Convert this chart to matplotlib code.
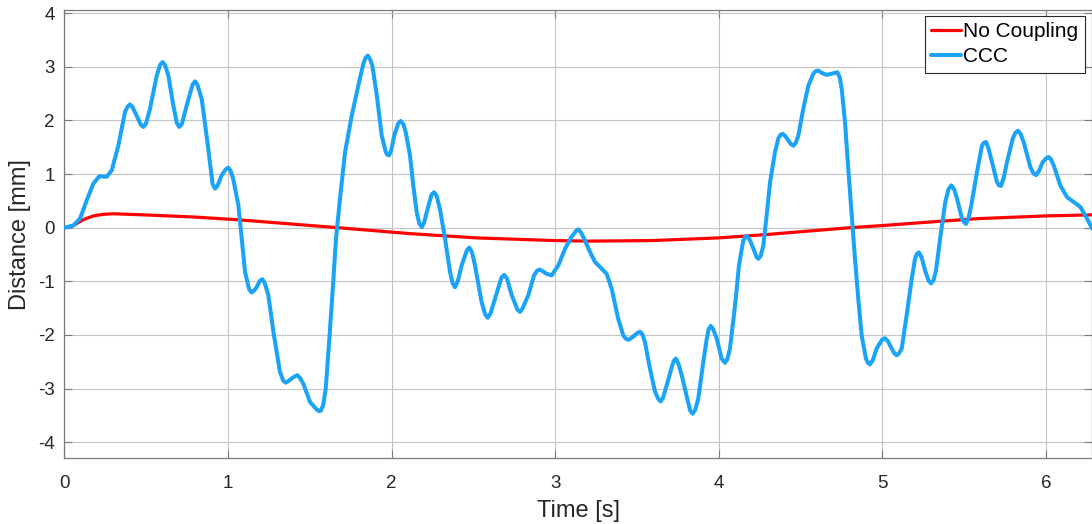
import matplotlib
matplotlib.use("Agg")
import matplotlib.pyplot as plt

# ---- data: (time [s], distance [mm]) ----
ccc_points = [
    (0.000, 0.00), (0.055, 0.04), (0.096, 0.17), (0.137, 0.51), (0.177, 0.82),
    (0.214, 0.96), (0.259, 0.95), (0.290, 1.07), (0.330, 1.53), (0.371, 2.16),
    (0.387, 2.26), (0.402, 2.30), (0.417, 2.25), (0.442, 2.09), (0.468, 1.92),
    (0.483, 1.88), (0.498, 1.93), (0.524, 2.22), (0.565, 2.84), (0.586, 3.04),
    (0.601, 3.09), (0.616, 3.03), (0.636, 2.84), (0.666, 2.28), (0.688, 1.95),
    (0.703, 1.88), (0.718, 1.93), (0.748, 2.28), (0.784, 2.67), (0.799, 2.73),
    (0.814, 2.66), (0.840, 2.40), (0.880, 1.47), (0.906, 0.82), (0.921, 0.73),
    (0.936, 0.78), (0.962, 0.98), (0.987, 1.09), (1.002, 1.12), (1.017, 1.06),
    (1.033, 0.90), (1.064, 0.42), (1.084, -0.20), (1.105, -0.83), (1.130, -1.15),
    (1.145, -1.21), (1.160, -1.17), (1.176, -1.11), (1.195, -0.99), (1.210, -0.96),
    (1.225, -1.03), (1.247, -1.26), (1.278, -1.94), (1.318, -2.69), (1.338, -2.85),
    (1.353, -2.89), (1.370, -2.86), (1.390, -2.81), (1.410, -2.77), (1.424, -2.75),
    (1.440, -2.80), (1.461, -2.91), (1.502, -3.25), (1.543, -3.39), (1.557, -3.42),
    (1.569, -3.41), (1.583, -3.30), (1.598, -3.00), (1.620, -2.07), (1.641, -1.14),
    (1.661, -0.20), (1.685, 0.54), (1.716, 1.41), (1.757, 2.09), (1.797, 2.65),
    (1.828, 3.06), (1.842, 3.17), (1.855, 3.21), (1.868, 3.15), (1.883, 3.02),
    (1.910, 2.47), (1.940, 1.72), (1.965, 1.41), (1.975, 1.36), (1.985, 1.35),
    (1.998, 1.44), (2.017, 1.72), (2.040, 1.94), (2.056, 1.99), (2.072, 1.93),
    (2.087, 1.78), (2.113, 1.35), (2.133, 0.79), (2.154, 0.29), (2.170, 0.08),
    (2.185, 0.01), (2.200, 0.10), (2.215, 0.29), (2.245, 0.62), (2.260, 0.66),
    (2.275, 0.60), (2.296, 0.35), (2.327, -0.20), (2.358, -0.83), (2.373, -1.03),
    (2.388, -1.11), (2.405, -1.00), (2.429, -0.70), (2.461, -0.42), (2.476, -0.37),
    (2.492, -0.46), (2.510, -0.70), (2.551, -1.39), (2.573, -1.62), (2.588, -1.68),
    (2.605, -1.60), (2.633, -1.32), (2.672, -0.93), (2.689, -0.88), (2.706, -0.95),
    (2.735, -1.26), (2.770, -1.53), (2.785, -1.57), (2.800, -1.51), (2.836, -1.26),
    (2.871, -0.89), (2.890, -0.80), (2.908, -0.78), (2.949, -0.86), (2.979, -0.89),
    (3.020, -0.70), (3.061, -0.39), (3.101, -0.17), (3.128, -0.06), (3.142, -0.03),
    (3.156, -0.08), (3.172, -0.17), (3.213, -0.45), (3.244, -0.64), (3.274, -0.73),
    (3.315, -0.86), (3.346, -1.14), (3.386, -1.70), (3.417, -2.01), (3.432, -2.07),
    (3.447, -2.09), (3.464, -2.06), (3.484, -2.01), (3.505, -1.96), (3.519, -1.94),
    (3.534, -1.99), (3.549, -2.13), (3.580, -2.63), (3.611, -3.06), (3.630, -3.19),
    (3.645, -3.24), (3.660, -3.17), (3.682, -2.94), (3.716, -2.57), (3.726, -2.48),
    (3.739, -2.44), (3.755, -2.55), (3.774, -2.75), (3.808, -3.19), (3.826, -3.41),
    (3.841, -3.47), (3.856, -3.40), (3.875, -3.19), (3.906, -2.50), (3.927, -2.07),
    (3.938, -1.90), (3.951, -1.83), (3.966, -1.89), (3.988, -2.07), (4.018, -2.44),
    (4.038, -2.52), (4.052, -2.46), (4.069, -2.25), (4.100, -1.45), (4.124, -0.70),
    (4.150, -0.24), (4.162, -0.17), (4.175, -0.16), (4.192, -0.24), (4.212, -0.39),
    (4.230, -0.54), (4.242, -0.58), (4.256, -0.53), (4.273, -0.33), (4.293, 0.23),
    (4.314, 0.85), (4.344, 1.41), (4.364, 1.66), (4.377, 1.73), (4.391, 1.75),
    (4.407, 1.71), (4.425, 1.63), (4.441, 1.56), (4.456, 1.53), (4.471, 1.58),
    (4.487, 1.72), (4.517, 2.22), (4.548, 2.65), (4.578, 2.87), (4.593, 2.92),
    (4.609, 2.93), (4.635, 2.88), (4.660, 2.85), (4.701, 2.88), (4.725, 2.90),
    (4.740, 2.80), (4.752, 2.59), (4.772, 1.97), (4.792, 1.10), (4.813, 0.23),
    (4.833, -0.58), (4.853, -1.32), (4.874, -2.01), (4.900, -2.44), (4.912, -2.52),
    (4.925, -2.55), (4.942, -2.47), (4.966, -2.25), (4.998, -2.09), (5.017, -2.06),
    (5.035, -2.12), (5.057, -2.25), (5.073, -2.34), (5.088, -2.38), (5.103, -2.34),
    (5.119, -2.25), (5.149, -1.63), (5.180, -0.95), (5.200, -0.58), (5.211, -0.49),
    (5.224, -0.46), (5.240, -0.55), (5.262, -0.80), (5.283, -0.99), (5.298, -1.04),
    (5.313, -0.98), (5.328, -0.80), (5.355, -0.17), (5.385, 0.48), (5.405, 0.72),
    (5.422, 0.79), (5.440, 0.71), (5.457, 0.54), (5.487, 0.17), (5.500, 0.10),
    (5.512, 0.07), (5.527, 0.18), (5.544, 0.42), (5.579, 1.04), (5.609, 1.53),
    (5.620, 1.58), (5.634, 1.60), (5.650, 1.47), (5.671, 1.22), (5.701, 0.85),
    (5.713, 0.79), (5.726, 0.78), (5.742, 0.93), (5.762, 1.22), (5.797, 1.66),
    (5.813, 1.77), (5.829, 1.81), (5.845, 1.75), (5.864, 1.60), (5.905, 1.13),
    (5.925, 1.01), (5.940, 0.98), (5.958, 1.06), (5.980, 1.22), (6.000, 1.29),
    (6.017, 1.32), (6.032, 1.27), (6.048, 1.16), (6.088, 0.79), (6.129, 0.57),
    (6.170, 0.48), (6.210, 0.39), (6.241, 0.23), (6.262, 0.11), (6.283, -0.02),
]

no_coupling_points = [
    (0.000, 0.00), (0.055, 0.04), (0.116, 0.15), (0.177, 0.22), (0.238, 0.25),
    (0.300, 0.26), (0.483, 0.24), (0.789, 0.20), (1.054, 0.15), (1.675, 0.00),
    (2.113, -0.11), (2.520, -0.19), (3.000, -0.24), (3.210, -0.25), (3.590, -0.24),
    (4.000, -0.19), (4.280, -0.13), (4.800, 0.00), (5.000, 0.04), (5.350, 0.12),
    (5.590, 0.17), (6.000, 0.22), (6.283, 0.24),
]

labels = ["No Coupling", "CCC"]
xticks = [0, 1, 2, 3, 4, 5, 6]
yticks = [-4, -3, -2, -1, 0, 1, 2, 3, 4]

t_ccc = [p[0] for p in ccc_points]
d_ccc = [p[1] for p in ccc_points]
t_nc = [p[0] for p in no_coupling_points]
d_nc = [p[1] for p in no_coupling_points]

plt.rcParams['font.family'] = ['Liberation Sans', 'DejaVu Sans']
plt.rcParams['axes.unicode_minus'] = False

fig = plt.figure(figsize=(10.92, 5.24), dpi=100)
ax = fig.add_axes([0.0589, 0.1254, 0.9413, 0.8555])

ax.plot(t_nc, d_nc, color='#ff0000', lw=2.3, label=labels[0],
        solid_joinstyle='round', solid_capstyle='round', zorder=3)
ax.plot(t_ccc, d_ccc, color='#1ba3f7', lw=2.9, label=labels[1],
        solid_joinstyle='round', solid_capstyle='round', zorder=4)

ax.set_xlim(0, 6.2832)
ax.set_ylim(-4.30, 4.06)
ax.set_xticks(xticks)
ax.set_yticks(yticks)
ax.grid(True, color='#c4c4c4', lw=0.8)
ax.set_axisbelow(True)
for s in ax.spines.values():
    s.set_color('#7a7a7a')
    s.set_linewidth(0.9)
ax.tick_params(direction='in', length=6, width=0.8, colors='#7a7a7a',
               top=True, right=True, labelsize=13.5, labelcolor='#262626', pad=7)
ax.tick_params(axis='x', pad=12)
ax.set_xlabel("Time [s]", fontsize=17, color='#262626', labelpad=6)
ax.set_ylabel("Distance [mm]", fontsize=17, color='#262626', labelpad=5)

leg = ax.legend(loc='upper right', bbox_to_anchor=(0.9925, 0.987), fontsize=15,
                frameon=True, fancybox=False, edgecolor='#262626', framealpha=1,
                handlelength=1.45, handletextpad=0.1, borderpad=0.3,
                labelspacing=0.3, borderaxespad=0.0)
leg.get_frame().set_linewidth(0.8)

fig.savefig("out.png", dpi=100)
